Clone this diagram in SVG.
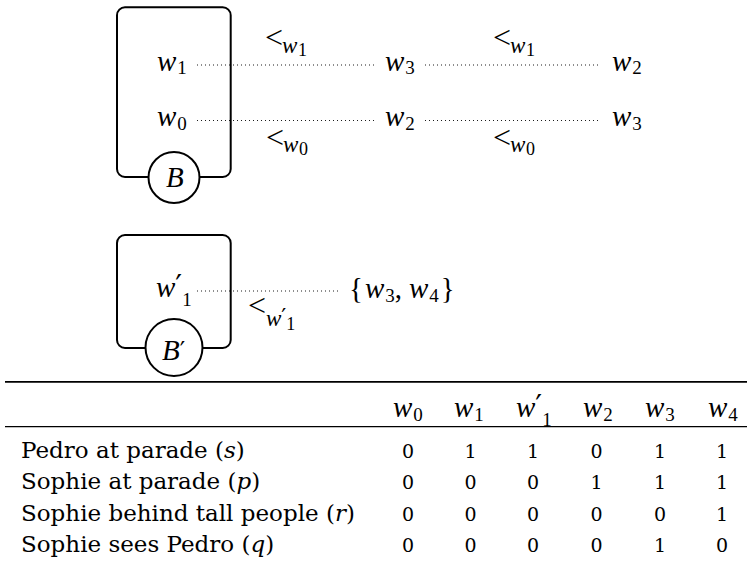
<svg xmlns="http://www.w3.org/2000/svg" width="747" height="566" viewBox="0 0 747 566">
<style>
  .box { fill: none; stroke: #000; stroke-width: 2; }
  .circ { fill: #fff; stroke: #000; stroke-width: 2; }
  .dot { stroke: #000; stroke-width: 1; stroke-dasharray: 0.9 3.1; fill: none; }
  .m { font-family: "Liberation Serif", serif; font-style: italic; font-size: 29px; fill: #000; }
  .s { font-family: "Liberation Serif", serif; font-style: normal; font-size: 19px; }
  .up { font-family: "Liberation Serif", serif; font-style: normal; font-size: 29px; fill: #000; }
  .lt { font-family: "Liberation Serif", serif; font-style: normal; font-size: 32px; fill: #000; }
  .lw { font-family: "Liberation Serif", serif; font-style: italic; font-size: 23px; fill: #000; }
  .ls { font-family: "Liberation Serif", serif; font-style: normal; font-size: 18px; fill: #000; }
  .pr { font-family: "DejaVu Sans", sans-serif; font-style: normal; }
  .lbl { font-family: "DejaVu Serif", serif; font-size: 23px; fill: #000; }
  .it { font-style: italic; }
  .num { font-family: "DejaVu Serif", serif; font-size: 19px; fill: #000; text-anchor: middle; }
  .rule { stroke: #000; }
</style>

<g id="connectors">
  <line class="dot" x1="197" y1="65" x2="376" y2="65"/>
  <line class="dot" x1="425" y1="65" x2="600" y2="65"/>
  <line class="dot" x1="197" y1="120.5" x2="376" y2="120.5"/>
  <line class="dot" x1="425" y1="120.5" x2="600" y2="120.5"/>
  <line class="dot" x1="197" y1="291" x2="340" y2="291"/>
</g>

<g id="box-B">
  <rect class="box" x="117" y="7.3" width="113.7" height="169.7" rx="8"/>
  <circle class="circ" cx="174" cy="177.5" r="25.5"/>
  <text class="m" x="166" y="187" font-size="26">B</text>
</g>

<g id="box-Bprime">
  <rect class="box" x="117" y="235" width="113.7" height="113" rx="8"/>
  <circle class="circ" cx="174" cy="347.5" r="28.5"/>
  <text class="m" x="162" y="360" font-size="26">B<tspan class="pr" font-size="24" dy="-1">′</tspan></text>
</g>

<g id="node-w1">
  <text class="m" x="157" y="70.5">w<tspan class="s" dx="1" dy="3.5">1</tspan></text>
</g>
<g id="node-w0">
  <text class="m" x="157" y="126">w<tspan class="s" dx="1" dy="3.5">0</tspan></text>
</g>
<g id="node-w3-top">
  <text class="m" x="385" y="70.5">w<tspan class="s" dx="1" dy="3.5">3</tspan></text>
</g>
<g id="node-w2-bottom">
  <text class="m" x="385" y="126">w<tspan class="s" dx="1" dy="3.5">2</tspan></text>
</g>
<g id="node-w2-top">
  <text class="m" x="612" y="70.5">w<tspan class="s" dx="1" dy="3.5">2</tspan></text>
</g>
<g id="node-w3-bottom">
  <text class="m" x="612" y="126">w<tspan class="s" dx="1" dy="3.5">3</tspan></text>
</g>
<g id="node-w1prime">
  <text class="m" x="156" y="297">w<tspan class="pr" font-size="30" dy="-1">′</tspan><tspan class="s" dy="10">1</tspan></text>
</g>
<g id="node-w3w4">
  <text class="up" x="349" y="298" font-size="31">{<tspan class="m" dx="2">w</tspan><tspan class="s" dx="1" dy="3.5">3</tspan><tspan dy="-3.5">,</tspan><tspan class="m" dx="7">w</tspan><tspan class="s" dx="1" dy="3.5">4</tspan><tspan dx="2" dy="-3.5">}</tspan></text>
</g>

<g id="labels">
  <text class="lt" x="265" y="48">&lt;<tspan class="lw" x="282" y="53">w</tspan><tspan class="ls" x="298" y="55.5">1</tspan></text>
  <text class="lt" x="493" y="48">&lt;<tspan class="lw" x="510" y="53">w</tspan><tspan class="ls" x="526" y="55.5">1</tspan></text>
  <text class="lt" x="266" y="148">&lt;<tspan class="lw" x="283" y="152">w</tspan><tspan class="ls" x="299" y="154.5">0</tspan></text>
  <text class="lt" x="493" y="148">&lt;<tspan class="lw" x="510" y="152">w</tspan><tspan class="ls" x="526" y="154.5">0</tspan></text>
  <text class="lt" x="248" y="316">&lt;<tspan class="lw" x="266" y="326">w</tspan><tspan class="pr" font-size="22" dy="-2">′</tspan><tspan class="ls" dy="6">1</tspan></text>
</g>

<g id="table">
  <line class="rule" x1="5" y1="381.8" x2="747" y2="381.8" stroke-width="1.8"/>
  <line class="rule" x1="5" y1="426.7" x2="747" y2="426.7" stroke-width="1.2"/>
  <text class="m" x="393" y="417">w<tspan class="s" dx="1" dy="3.5">0</tspan></text>
  <text class="m" x="454" y="417">w<tspan class="s" dx="1" dy="3.5">1</tspan></text>
  <text class="m" x="516" y="417">w<tspan class="pr" font-size="30" dy="-1">′</tspan><tspan class="s" dy="10">1</tspan></text>
  <text class="m" x="583" y="417">w<tspan class="s" dx="1" dy="3.5">2</tspan></text>
  <text class="m" x="645" y="417">w<tspan class="s" dx="1" dy="3.5">3</tspan></text>
  <text class="m" x="708" y="417">w<tspan class="s" dx="1" dy="3.5">4</tspan></text>

  <text class="lbl" x="21" y="457.5">Pedro at parade (<tspan class="it">s</tspan>)</text>
  <text class="lbl" x="21" y="489">Sophie at parade (<tspan class="it">p</tspan>)</text>
  <text class="lbl" x="21" y="520.5">Sophie behind tall people (<tspan class="it">r</tspan>)</text>
  <text class="lbl" x="21" y="552">Sophie sees Pedro (<tspan class="it">q</tspan>)</text>

  <g class="num">
    <text x="408" y="457.5">0</text><text x="470.5" y="457.5">1</text><text x="533" y="457.5">1</text><text x="596.5" y="457.5">0</text><text x="660" y="457.5">1</text><text x="722" y="457.5">1</text>
    <text x="408" y="489">0</text><text x="470.5" y="489">0</text><text x="533" y="489">0</text><text x="596.5" y="489">1</text><text x="660" y="489">1</text><text x="722" y="489">1</text>
    <text x="408" y="520.5">0</text><text x="470.5" y="520.5">0</text><text x="533" y="520.5">0</text><text x="596.5" y="520.5">0</text><text x="660" y="520.5">0</text><text x="722" y="520.5">1</text>
    <text x="408" y="552">0</text><text x="470.5" y="552">0</text><text x="533" y="552">0</text><text x="596.5" y="552">0</text><text x="660" y="552">1</text><text x="722" y="552">0</text>
  </g>
</g>
</svg>
